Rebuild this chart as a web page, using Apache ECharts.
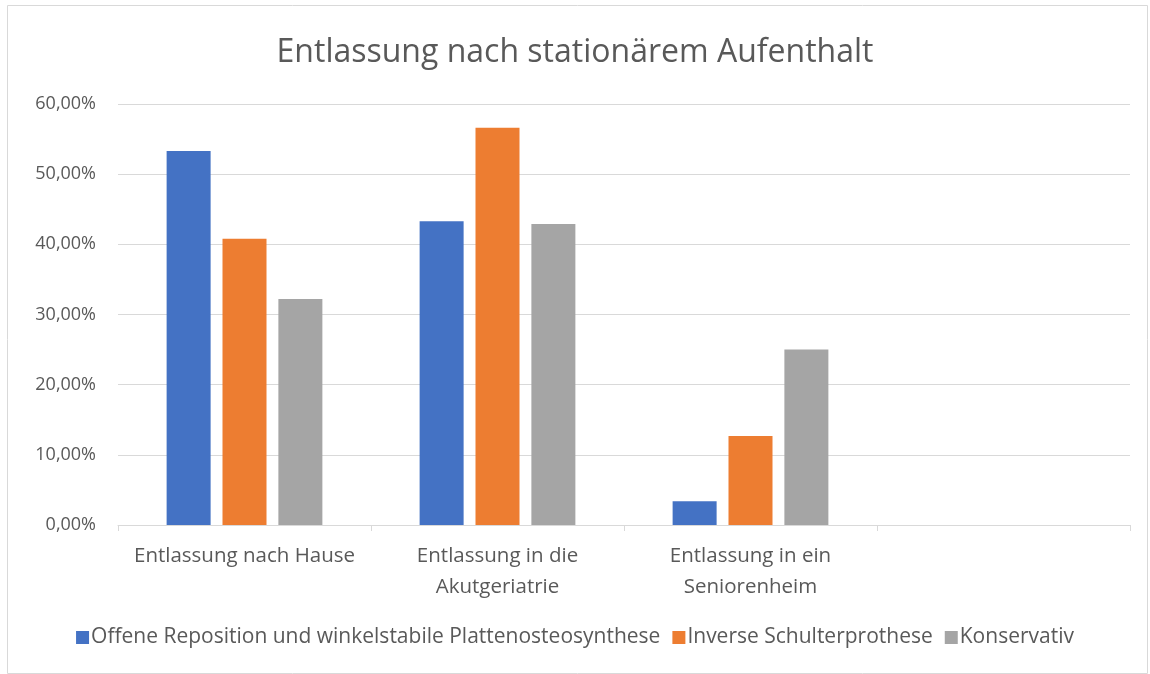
<!DOCTYPE html>
<html><head><meta charset="utf-8">
<script src="https://cdn.jsdelivr.net/npm/echarts@6/dist/echarts.min.js"></script>
<style>html,body{margin:0;padding:0;background:#fff}#c{width:1150px;height:674px}</style>
</head><body><div id="c"></div>
<script>
const categories = ['Entlassung nach Hause', 'Entlassung in die\nAkutgeriatrie', 'Entlassung in ein\nSeniorenheim', ''];
const seriesNames = ['Offene Reposition und winkelstabile Plattenosteosynthese', 'Inverse Schulterprothese', 'Konservativ'];
const offene = [53.3, 43.3, 3.4, null];
const inverse = [40.8, 56.6, 12.7, null];
const konservativ = [32.2, 42.9, 25.0, null];
const colors = ['#4472C4', '#ED7D31', '#A5A5A5'];
const font = 'Open Sans';

const chart = echarts.init(document.getElementById('c'), null, {renderer: 'canvas'});
const values = [offene, inverse, konservativ];
chart.setOption({
  animation: false,
  title: {text: 'Entlassung nach stationärem Aufenthalt', left: 'center', top: 32,
    textStyle: {fontFamily: font, fontSize: 32, fontWeight: 'normal', color: '#595959'}},
  graphic: [{type: 'rect', left: 5, top: 3, shape: {width: 1140, height: 668},
    style: {fill: 'none', stroke: '#D9D9D9', lineWidth: 1}, silent: true}],
  legend: {bottom: 21, left: 'center', itemWidth: 13, itemHeight: 13, itemGap: 12, icon: 'rect',
    textStyle: {fontFamily: font, fontSize: 21, color: '#595959', padding: [0, 0, 0, -3]}},
  grid: {left: 118, right: 20, top: 104, bottom: 149, containLabel: false},
  xAxis: {type: 'category', data: categories,
    axisLine: {lineStyle: {color: '#D9D9D9', width: 1}},
    axisTick: {show: true, alignWithLabel: false, length: 6, lineStyle: {color: '#D9D9D9'}},
    axisLabel: {fontFamily: font, fontSize: 20.5, color: '#595959', margin: 16, lineHeight: 31, interval: 0}},
  yAxis: {type: 'value', min: 0, max: 60, interval: 10,
    axisLine: {show: false}, axisTick: {show: false},
    splitLine: {lineStyle: {color: '#D9D9D9', width: 1}},
    axisLabel: {fontFamily: font, fontSize: 18, color: '#595959', margin: 22,
      formatter: v => v.toFixed(2).replace('.', ',') + '%'}},
  series: values.map((d, i) => ({name: seriesNames[i], type: 'bar', data: d,
    barWidth: 44, barGap: '27%', itemStyle: {color: colors[i]}}))
});
</script></body></html>
